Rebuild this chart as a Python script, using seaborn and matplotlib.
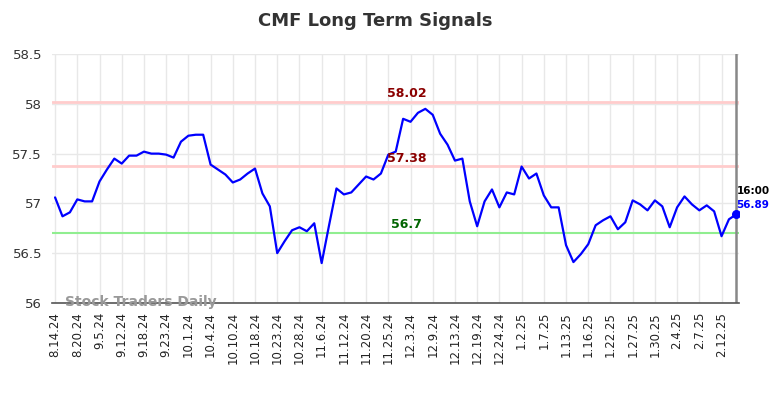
import numpy as np
import pandas as pd
import matplotlib
matplotlib.use("Agg")
import matplotlib.pyplot as plt
import seaborn as sns

# CMF values, one per trading day
cmf_values = [57.06, 56.87, 56.91, 57.04, 57.02, 57.02, 57.22, 57.34, 57.45, 57.40,
              57.48, 57.48, 57.52, 57.50, 57.50, 57.49, 57.46, 57.62, 57.68, 57.69,
              57.69, 57.39, 57.34, 57.29, 57.21, 57.24, 57.30, 57.35, 57.10, 56.97,
              56.50, 56.62, 56.73, 56.76, 56.72, 56.80, 56.40, 56.78, 57.15, 57.09,
              57.11, 57.19, 57.27, 57.24, 57.30, 57.49, 57.52, 57.85, 57.82, 57.91,
              57.95, 57.89, 57.70, 57.59, 57.43, 57.45, 57.02, 56.77, 57.02, 57.14,
              56.96, 57.11, 57.09, 57.37, 57.25, 57.30, 57.08, 56.96, 56.96, 56.58,
              56.41, 56.49, 56.59, 56.78, 56.83, 56.87, 56.74, 56.81, 57.03, 56.99,
              56.93, 57.03, 56.97, 56.76, 56.96, 57.07, 56.99, 56.93, 56.98, 56.92,
              56.67, 56.84, 56.89]

tick_labels = ["8.14.24", "8.20.24", "9.5.24", "9.12.24", "9.18.24", "9.23.24",
               "10.1.24", "10.4.24", "10.10.24", "10.18.24", "10.23.24", "10.28.24",
               "11.6.24", "11.12.24", "11.20.24", "11.25.24", "12.3.24", "12.9.24",
               "12.13.24", "12.19.24", "12.24.24", "1.2.25", "1.7.25", "1.13.25",
               "1.16.25", "1.22.25", "1.27.25", "1.30.25", "2.4.25", "2.7.25", "2.12.25"]

upper_level = 58.02
middle_level = 57.38
lower_level = 56.7
last_time = "16:00"

df = pd.DataFrame({"idx": np.arange(len(cmf_values)), "cmf": cmf_values})

sns.set_style("whitegrid")
plt.rcParams['font.family'] = ['DejaVu Sans']

fig = plt.figure(figsize=(7.84, 3.98), dpi=100)
ax = fig.add_axes([0.066, 0.239, 0.877, 0.625])

# signal levels
ax.axhline(upper_level, color="#ffcccc", lw=2, zorder=1)
ax.axhline(middle_level, color="#ffcccc", lw=2, zorder=1)
ax.axhline(lower_level, color="#90ee90", lw=1.5, zorder=1)

sns.lineplot(data=df, x="idx", y="cmf", color="blue", lw=1.6, ax=ax, zorder=3)

last = len(cmf_values) - 1
ax.axvline(last, color="#888888", lw=1.8, zorder=2)
ax.scatter([last], [cmf_values[-1]], color="blue", s=30, zorder=4)

mid_x = 47.5
ax.text(mid_x, upper_level + 0.02, f"{upper_level:g}", color="#8b0000", fontsize=9,
        fontweight="bold", ha="center", va="bottom")
ax.text(mid_x, middle_level + 0.01, f"{middle_level:g}", color="#8b0000", fontsize=9,
        fontweight="bold", ha="center", va="bottom")
ax.text(mid_x, lower_level + 0.02, f"{lower_level:g}", color="#006400", fontsize=9,
        fontweight="bold", ha="center", va="bottom")

ax.text(last, cmf_values[-1] + 0.18, last_time, color="black", fontsize=7.5,
        fontweight="bold", ha="left", va="bottom")
ax.text(last, cmf_values[-1] + 0.04, f"{cmf_values[-1]:g}", color="blue", fontsize=7.5,
        fontweight="bold", ha="left", va="bottom")

ax.text(0.02, 0.005, "Stock Traders Daily", transform=ax.transAxes, color="#999999",
        fontsize=10, fontweight="bold", ha="left", va="center")

ax.set_xlim(-0.45, last + 0.4)
ax.set_ylim(56, 58.5)
ax.set_yticks([56, 56.5, 57, 57.5, 58, 58.5])
ax.set_yticklabels(["56", "56.5", "57", "57.5", "58", "58.5"])
ax.set_xticks(np.arange(0, len(tick_labels) * 3, 3))
ax.set_xticklabels(tick_labels, rotation=90, fontsize=8.5)
ax.tick_params(axis="y", labelsize=9.5, colors="#333333")
ax.tick_params(axis="x", colors="#222222", pad=3)
ax.set_xlabel(None)
ax.set_ylabel(None)
ax.grid(color="#e8e8e8", lw=1)

for side in ["left", "top", "right"]:
    ax.spines[side].set_visible(False)
ax.spines["bottom"].set_color("#555555")
ax.spines["bottom"].set_linewidth(1.2)

fig.suptitle("CMF Long Term Signals", x=0.478, y=0.97, fontsize=13, fontweight="bold",
             color="#333333")

fig.savefig("out.png", dpi=100)
